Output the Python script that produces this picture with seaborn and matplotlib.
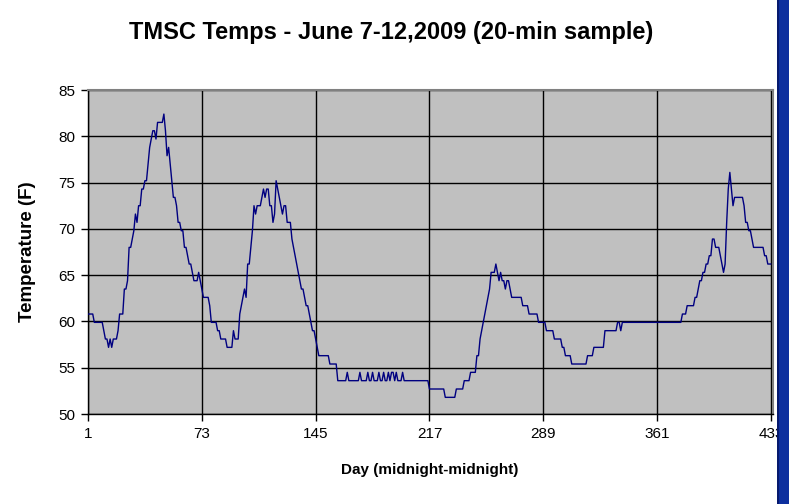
import matplotlib
matplotlib.use("Agg")
import matplotlib.pyplot as plt
import numpy as np
import pandas as pd
import seaborn as sns
from matplotlib.patches import Rectangle

# 20-minute samples, one list per day (midnight-midnight), deg F
day1_temps = [
    60.8, 60.8, 60.8, 60.8, 59.9, 59.9, 59.9, 59.9, 59.9, 59.9,
    59.0, 58.1, 58.1, 57.2, 58.1, 57.2, 58.1, 58.1, 58.1, 59.0,
    60.8, 60.8, 60.8, 63.5, 63.5, 64.4, 68.0, 68.0, 68.9, 69.8,
    71.6, 70.7, 72.5, 72.5, 74.3, 74.3, 75.2, 75.2, 77.0, 78.8,
    79.7, 80.6, 80.6, 79.7, 81.5, 81.5, 81.5, 81.5, 82.4, 80.6,
    77.9, 78.8, 77.0, 75.2, 73.4, 73.4, 72.5, 70.7, 70.7, 69.8,
    69.8, 68.0, 68.0, 67.1, 66.2, 66.2, 65.3, 64.4, 64.4, 64.4,
    65.3, 64.4, 63.5,
]
day2_temps = [
    62.6, 62.6, 62.6, 62.6, 61.7, 59.9, 59.9, 59.9, 59.9, 59.0,
    59.0, 58.1, 58.1, 58.1, 58.1, 57.2, 57.2, 57.2, 57.2, 59.0,
    58.1, 58.1, 58.1, 60.8, 61.7, 62.6, 63.5, 62.6, 66.2, 66.2,
    68.0, 69.8, 72.5, 71.6, 72.5, 72.5, 72.5, 73.4, 74.3, 73.4,
    74.3, 74.3, 72.5, 72.5, 70.7, 71.6, 75.2, 74.3, 73.4, 72.5,
    71.6, 72.5, 72.5, 70.7, 70.7, 70.7, 68.9, 68.0, 67.1, 66.2,
    65.3, 64.4, 63.5, 63.5, 62.6, 61.7, 61.7, 60.8, 59.9, 59.0,
    59.0, 58.1,
]
day3_temps = [
    57.2, 56.3, 56.3, 56.3, 56.3, 56.3, 56.3, 56.3, 55.4, 55.4,
    55.4, 55.4, 55.4, 53.6, 53.6, 53.6, 53.6, 53.6, 53.6, 54.5,
    53.6, 53.6, 53.6, 53.6, 53.6, 53.6, 53.6, 54.5, 53.6, 53.6,
    53.6, 53.6, 54.5, 53.6, 53.6, 54.5, 53.6, 53.6, 53.6, 54.5,
    53.6, 53.6, 54.5, 53.6, 53.6, 54.5, 53.6, 54.5, 54.5, 53.6,
    54.5, 53.6, 53.6, 53.6, 54.5, 53.6, 53.6, 53.6, 53.6, 53.6,
    53.6, 53.6, 53.6, 53.6, 53.6, 53.6, 53.6, 53.6, 53.6, 53.6,
    53.6, 52.7,
]
day4_temps = [
    52.7, 52.7, 52.7, 52.7, 52.7, 52.7, 52.7, 52.7, 52.7, 51.8,
    51.8, 51.8, 51.8, 51.8, 51.8, 51.8, 52.7, 52.7, 52.7, 52.7,
    52.7, 53.6, 53.6, 53.6, 53.6, 54.5, 54.5, 54.5, 54.5, 56.3,
    56.3, 58.1, 59.0, 59.9, 60.8, 61.7, 62.6, 63.5, 65.3, 65.3,
    65.3, 66.2, 65.3, 64.4, 65.3, 64.4, 64.4, 63.5, 64.4, 64.4,
    63.5, 62.6, 62.6, 62.6, 62.6, 62.6, 62.6, 62.6, 61.7, 61.7,
    61.7, 61.7, 60.8, 60.8, 60.8, 60.8, 60.8, 60.8, 59.9, 59.9,
    59.9, 59.9,
]
day5_temps = [
    59.9, 59.0, 59.0, 59.0, 59.0, 59.0, 58.1, 58.1, 58.1, 58.1,
    58.1, 57.2, 57.2, 56.3, 56.3, 56.3, 56.3, 55.4, 55.4, 55.4,
    55.4, 55.4, 55.4, 55.4, 55.4, 55.4, 55.4, 56.3, 56.3, 56.3,
    56.3, 57.2, 57.2, 57.2, 57.2, 57.2, 57.2, 57.2, 59.0, 59.0,
    59.0, 59.0, 59.0, 59.0, 59.0, 59.0, 59.9, 59.9, 59.0, 59.9,
    59.9, 59.9, 59.9, 59.9, 59.9, 59.9, 59.9, 59.9, 59.9, 59.9,
    59.9, 59.9, 59.9, 59.9, 59.9, 59.9, 59.9, 59.9, 59.9, 59.9,
    59.9, 59.9,
]
day6_temps = [
    59.9, 59.9, 59.9, 59.9, 59.9, 59.9, 59.9, 59.9, 59.9, 59.9,
    59.9, 59.9, 59.9, 59.9, 59.9, 60.8, 60.8, 60.8, 61.7, 61.7,
    61.7, 61.7, 61.7, 62.6, 62.6, 63.5, 64.4, 64.4, 65.3, 65.3,
    66.2, 66.2, 67.1, 67.1, 68.9, 68.9, 68.0, 68.0, 68.0, 67.1,
    66.2, 65.3, 66.2, 70.7, 74.3, 76.1, 74.3, 72.5, 73.4, 73.4,
    73.4, 73.4, 73.4, 73.4, 72.5, 70.7, 70.7, 69.8, 69.8, 68.9,
    68.0, 68.0, 68.0, 68.0, 68.0, 68.0, 68.0, 67.1, 67.1, 66.2,
    66.2, 66.2,
]

x_ticks = [1, 73, 145, 217, 289, 361, 433]
y_ticks = [50, 55, 60, 65, 70, 75, 80, 85]

TITLE = "TMSC Temps - June 7-12,2009 (20-min sample)"
X_LABEL = "Day (midnight-midnight)"
Y_LABEL = "Temperature (F)"

temps = day1_temps + day2_temps + day3_temps + day4_temps + day5_temps + day6_temps
df = pd.DataFrame({"sample": np.arange(1, len(temps) + 1), "temp": temps})

sns.set_style("white")
plt.rcParams["font.family"] = ["Liberation Sans", "DejaVu Sans"]
plt.rcParams["text.color"] = "black"
plt.rcParams["xtick.color"] = "black"
plt.rcParams["ytick.color"] = "black"

fig = plt.figure(figsize=(7.89, 5.04), dpi=100)
ax = fig.add_axes([88 / 789, 1 - 414 / 504, (773 - 88) / 789, (414 - 90) / 504])
ax.set_facecolor("#c0c0c0")

sns.lineplot(data=df, x="sample", y="temp", ax=ax, color="#000080", linewidth=1.0, zorder=3)

ax.set_xlim(1, 434.3)
ax.set_ylim(50, 85)
ax.set_xticks(x_ticks)
ax.set_yticks(y_ticks)
ax.tick_params(axis="both", labelsize=11, length=5, width=1, color="black",
               labelcolor="black", direction="out", pad=4, bottom=True, left=True)
ax.grid(True, color="black", linewidth=1.0, zorder=1)
ax.set_axisbelow(True)
ax.set_xlabel("")
ax.set_ylabel("")

for side in ("left", "bottom"):
    ax.spines[side].set_color("black")
    ax.spines[side].set_linewidth(1.0)
for side in ("top", "right"):
    ax.spines[side].set_color("#808080")
    ax.spines[side].set_linewidth(1.5)

fig.text(391 / 789, 1 - 33 / 504, TITLE, ha="center", va="center",
         fontsize=17, fontweight="bold", color="black")
fig.text(430 / 789, 1 - 470 / 504, X_LABEL, ha="center", va="center",
         fontsize=11, fontweight="bold", color="black")
fig.text(28 / 789, 1 - 252 / 504, Y_LABEL, ha="center", va="center",
         rotation=90, fontsize=13.5, fontweight="bold", color="black")

# window frame strip on the right edge
fig.patches.append(Rectangle((777 / 789, 0), 12 / 789, 1, transform=fig.transFigure,
                             facecolor="#0d2f9e", edgecolor="none", zorder=10))
fig.patches.append(Rectangle((777 / 789, 0), 2 / 789, 1, transform=fig.transFigure,
                             facecolor="#06196e", edgecolor="none", zorder=11))

fig.savefig("out.png", dpi=100)
